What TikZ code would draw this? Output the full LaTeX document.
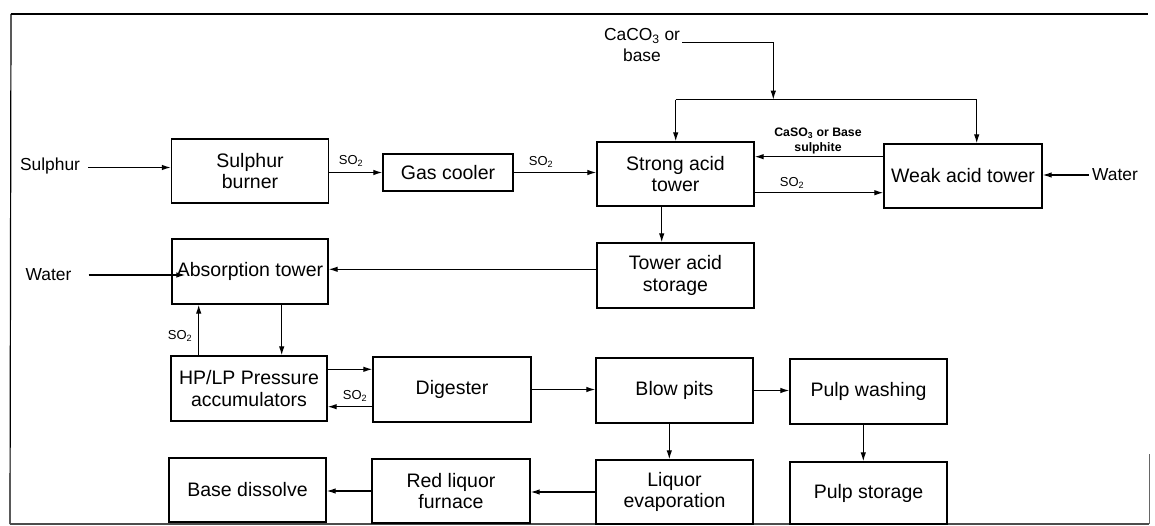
\documentclass[tikz,border=0pt]{standalone}
\usepackage{fontspec}
\setmainfont{Liberation Sans}
\usetikzlibrary{arrows.meta}
\begin{document}
\begin{tikzpicture}[x=1pt,y=-1pt,
  box/.style={draw, line width=1.3pt, align=center, inner sep=0pt,
     minimum width=157pt, minimum height=64pt,
     font=\fontsize{19.5}{21.5}\selectfont},
  side/.style={inner sep=3pt, font=\fontsize{17.4}{21}\selectfont, align=center},
  small/.style={inner sep=1pt, font=\fontsize{13}{15}\selectfont},
  arr/.style={line width=1.2pt, -{Latex[length=9pt,width=5.5pt]}},
  ln/.style={line width=1.2pt}]
\useasboundingbox (0,0) rectangle (1155,526);
% frame
\draw[line width=1.3pt] (11,14) -- (1148,14);
\draw[line width=1.2pt] (11,14) -- (10,524);
\draw[line width=1.2pt, black!70] (10,524) -- (1149,524);
\draw[line width=0.8pt, black!60] (1149,454) -- (1149,524);
% boxes
\node[box] (burner) at (250,171) {Sulphur\\burner};
\node[box, minimum width=130pt, minimum height=37pt] (cooler) at (448,172.5) {Gas cooler};
\node[box] (strong) at (675.5,174) {Strong acid\\tower};
\node[box, minimum width=158pt] (weak) at (963,176) {Weak acid tower};
\node[box, minimum height=65pt] (storage) at (675.5,275.5) {Tower acid\\storage};
\node[box, minimum width=156pt, minimum height=65pt] (absorb) at (250,271.5) {Absorption tower};
\node[box, minimum width=156pt, minimum height=65pt] (hplp) at (249,388.5) {HP/LP Pressure\\accumulators};
\node[box, minimum width=158pt, minimum height=65pt] (digester) at (452,389.5) {Digester};
\node[box, minimum height=65pt] (blow) at (674.5,390.5) {Blow pits};
\node[box, minimum height=65pt] (washing) at (868.5,391.5) {Pulp washing};
\node[box] (base) at (247.5,490) {Base dissolve};
\node[box, minimum width=158pt] (red) at (451,491) {Red liquor\\furnace};
\node[box] (evap) at (674.5,492) {Liquor\\evaporation};
\node[box, minimum height=62pt] (pulpst) at (868.5,493) {Pulp storage};
% side labels
\node[side] (sul) at (50,166) {Sulphur};
\node[side] (w1) at (1115,175) {Water};
\node[side] (w2) at (48.5,275) {Water};
\node[side] (caco) at (642,45) {CaCO\textsubscript{3} or\\base};
% small labels
\node[small] (s1) at (351,161) {SO\textsubscript{2}};
\node[small] (s2) at (541,162) {SO\textsubscript{2}};
\node[small] (s3) at (792,183) {SO\textsubscript{2}};
\node[small] (s4) at (180,336) {SO\textsubscript{2}};
\node[small] (s5) at (355,396) {SO\textsubscript{2}};
\node[inner sep=1pt, align=center, font=\fontsize{12.3}{15.5}\selectfont\bfseries] (cas) at (818,141) {CaSO\textsubscript{3} or Base\\sulphite};
% coordinates
\coordinate (c1) at (682,42.5);
\coordinate (j) at (773.3,99.7);
\coordinate (jl) at (675.7,99.7);
\coordinate (jr) at (976.7,99.7);
% connectors
\draw[arr] ([xshift=5pt]sul.east |- 0,167.5) -- (burner.west |- 0,167.5);
\draw[arr] (burner.east |- cooler.west) -- (cooler.west);
\draw[arr] (cooler.east) -- (cooler.east -| strong.west);
\draw[arr] (c1) -| (j);
\draw[ln] (jl) -- (jr);
\draw[arr] (jl) -- (jl |- strong.north);
\draw[arr] (jr) -- (jr |- weak.north);
\draw[arr] ([yshift=19.3pt]weak.west) -- ([yshift=19.3pt]weak.west -| strong.east);
\draw[arr] ([yshift=-18.7pt]strong.east) -- ([yshift=-18.7pt]strong.east -| weak.west);
\draw[arr] (w1.west) -- (w1.west -| weak.east);
\draw[arr] ([xshift=-13.8pt]strong.south) -- ([xshift=-13.8pt]strong.south |- storage.north);
\draw[arr] ([yshift=6.2pt]storage.west) -- ([yshift=6.2pt]storage.west -| absorb.east);
\draw[arr] ([xshift=14pt]w2.east) -- ([xshift=14pt]w2.east -| absorb.west);
\draw[arr] ([xshift=31.7pt]absorb.south) -- ([xshift=31.7pt]absorb.south |- hplp.north);
\draw[arr] ([xshift=-50.3pt]hplp.north) -- ([xshift=-50.3pt]hplp.north |- absorb.south);
\draw[arr] ([yshift=19.2pt]hplp.east) -- ([yshift=19.2pt]hplp.east -| digester.west);
\draw[arr] ([yshift=-17.2pt]digester.west) -- ([yshift=-17.2pt]digester.west -| hplp.east);
\draw[arr] (digester.east) -- (digester.east -| blow.west);
\draw[arr] (blow.east) -- (blow.east -| washing.west);
\draw[arr] ([xshift=-5.2pt]blow.south) -- ([xshift=-5.2pt]blow.south |- evap.north);
\draw[arr] ([xshift=-5.2pt]washing.south) -- ([xshift=-5.2pt]washing.south |- pulpst.north);
\draw[arr] (evap.west) -- (evap.west -| red.east);
\draw[arr] (red.west) -- (red.west -| base.east);
\end{tikzpicture}
\end{document}
